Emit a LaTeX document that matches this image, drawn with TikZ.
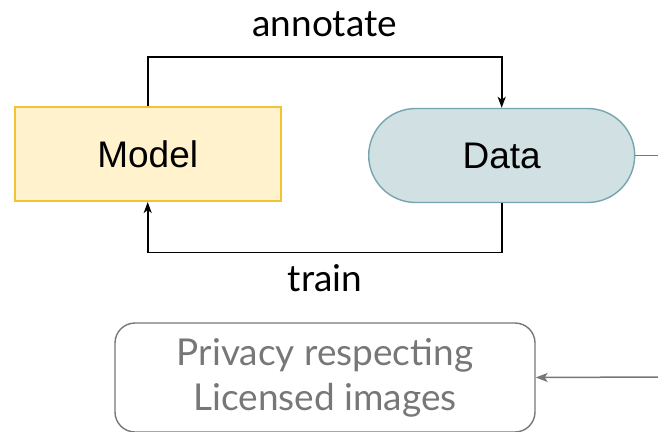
\documentclass[tikz,border=0pt]{standalone}
\usepackage{fontspec}
\usetikzlibrary{shapes.misc,arrows.meta}
\newfontfamily\labelfont{Lato}
\newfontfamily\boxfont{Liberation Sans}
\definecolor{modelfill}{HTML}{FFF2CC}
\definecolor{modeldraw}{HTML}{F1C232}
\definecolor{datafill}{HTML}{D0E0E3}
\definecolor{datadraw}{HTML}{76A5AF}
\definecolor{softgray}{HTML}{777777}
\tikzset{
  modelbox/.style={rectangle, draw=modeldraw, fill=modelfill, line width=1.6pt,
    minimum width=266pt, minimum height=94pt, inner sep=0pt,
    font=\boxfont\fontsize{37}{44}\selectfont},
  databox/.style={rounded rectangle, draw=datadraw, fill=datafill, line width=1.4pt,
    minimum width=266pt, minimum height=94pt, inner sep=0pt,
    font=\boxfont\fontsize{37}{44}\selectfont},
  sourcebox/.style={rectangle, rounded corners=20pt, draw=softgray, line width=1.4pt,
    minimum width=420pt, minimum height=109pt, inner sep=0pt, align=center,
    text=softgray, font=\labelfont\fontsize{37}{45}\selectfont},
  flowlabel/.style={anchor=base, inner sep=0pt, font=\labelfont\fontsize{37}{44}\selectfont},
  flow/.style={draw=black, line width=1.7pt,
    -{Stealth[length=11pt, width=8pt, inset=3pt]}},
  feed/.style={draw=softgray, line width=1.5pt},
  feedarrow/.style={feed, -{Stealth[length=12pt, width=9pt, inset=3pt]}}
}
\begin{document}
\begin{tikzpicture}[x=1pt, y=-1pt]
  \useasboundingbox (0,0) rectangle (658,431);

  % main loop: model and data
  \node[modelbox] (model) at (147.7,154.2) {Model};
  \node[databox] (data) at (501.7,155.5) {Data};

  % levels of the two horizontal runs
  \coordinate (upper) at (0,56.7);
  \coordinate (lower) at (0,252.5);

  \draw[flow] (model.north) -- (model.north |- upper) -| (data.north);
  \draw[flow] (data.south) -- (data.south |- lower) -| (model.south);

  \node[flowlabel] (annot) at (324.7,36.7) {annotate};
  \node[flowlabel] (trainlbl) at (325,291.7) {train};

  % licensed source box
  \node[sourcebox] (source) at (325,377.5) {Privacy respecting\\Licensed images};

  % outgoing and incoming gray links at the right edge
  \coordinate (dataout) at (662,155.5);
  \coordinate (sourcein) at (662,377);
  \draw[feed] (data.east) -- (dataout);
  \draw[feedarrow] (sourcein) -- (source.east);
\end{tikzpicture}
\end{document}
